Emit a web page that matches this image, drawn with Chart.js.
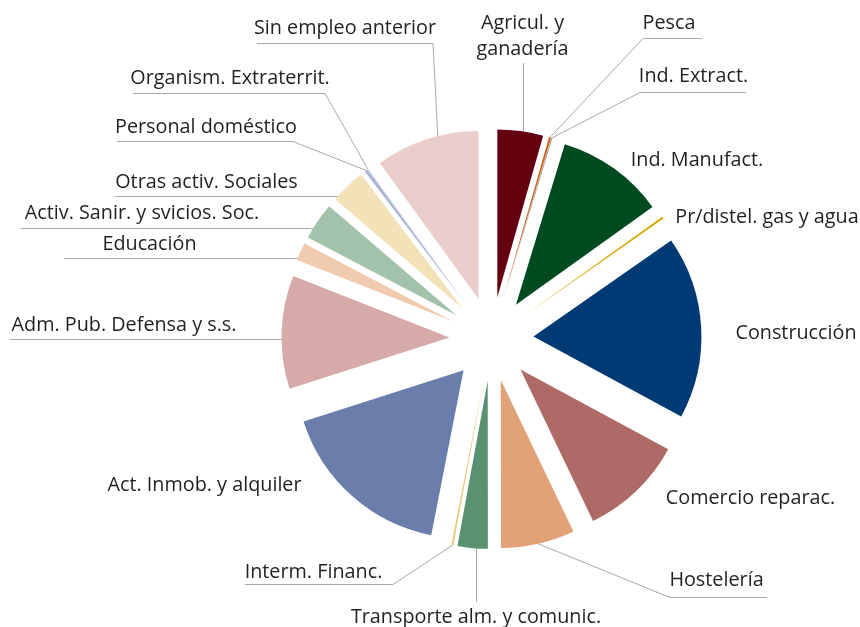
<!DOCTYPE html>
<html><head><meta charset="utf-8">
<script src="https://cdn.jsdelivr.net/npm/chart.js@4.4.0/dist/chart.umd.min.js"></script>
<style>html,body{margin:0;padding:0;background:#fff}#wrap{width:860px;height:627px;position:relative}</style>
</head><body><div id="wrap"><canvas id="c" width="860" height="627"></canvas></div>
<script>
// ---- data ----
const categories = ['Agricul. y ganadería','Pesca','Ind. Extract.','Ind. Manufact.','Pr/distel. gas y agua','Construcción','Comercio reparac.','Hostelería','Transporte alm. y comunic.','Interm. Financ.','Act. Inmob. y alquiler','Adm. Pub. Defensa y s.s.','Educación','Activ. Sanir. y svicios. Soc.','Otras activ. Sociales','Personal doméstico','Organism. Extraterrit.','Sin empleo anterior'];
const shares = [4.4,0.2,0.1,10.4,0.2,17.6,10.0,7.1,2.9,0.2,17.0,10.9,1.7,3.6,3.4,0.3,0.03,10.0];
const colors = ['#650010','#d0601a','#9a9a9a','#004a1f','#d4a800','#003a75','#ad6a66','#e2a278','#5a9271','#e8cc80','#6b7dab','#d5aaa8','#f0cbb0','#a2c2ab','#f3e2b8','#a9b4d6','#8f9bc4','#eacecb'];

// ---- layout / style ----
const EXPLODE = 42;
const RADIUS = 168;
const FONT = '19.8px "Open Sans"';
const TEXT_COLOR = '#231f20';
const LINE_COLOR = '#a8a8a8';
const labelLayout = [
  {i:0, lines:['Agricul. y','ganadería'], cx:522.5, cy:[23,49], leader:{type:'v', y0:63, t:0.55}},
  {i:1, lines:['Pesca'], cx:669, cy:[23], under:[643,702,38], leader:{type:'d', x0:643, y0:38, t:0.5}},
  {i:2, lines:['Ind. Extract.'], cx:693.5, cy:[76], under:[640,746,92], leader:{type:'d', x0:640, y0:92, t:0.5}},
  {i:3, lines:['Ind. Manufact.'], cx:697, cy:[160]},
  {i:4, lines:['Pr/distel. gas y agua'], cx:767, cy:[217]},
  {i:5, lines:['Construcción'], cx:796, cy:[333]},
  {i:6, lines:['Comercio reparac.'], cx:750.5, cy:[498]},
  {i:7, lines:['Hostelería'], cx:716.5, cy:[580], under:[670,767,597], leader:{type:'d', x0:670, y0:597, t:0.5}},
  {i:8, lines:['Transporte alm. y comunic.'], cx:476, cy:[617], leader:{type:'v', y0:602, t:0.4}},
  {i:9, lines:['Interm. Financ.'], cx:313.5, cy:[572], under:[245,393,584], leader:{type:'d', x0:393, y0:584, t:0.5}},
  {i:10, lines:['Act. Inmob. y alquiler'], cx:204.5, cy:[485]},
  {i:11, lines:['Adm. Pub. Defensa y s.s.'], cx:124, cy:[325], leader:{type:'h', x0:10, y0:339}},
  {i:12, lines:['Educación'], cx:149.5, cy:[244], leader:{type:'h', x0:64, y0:258}},
  {i:13, lines:['Activ. Sanir. y svicios. Soc.'], cx:142, cy:[213], leader:{type:'h', x0:21, y0:228}},
  {i:14, lines:['Otras activ. Sociales'], cx:206.5, cy:[182], leader:{type:'h', x0:115, y0:196}},
  {i:15, lines:['Personal doméstico'], cx:206, cy:[127], under:[117,293,141], leader:{type:'d', x0:293, y0:141, t:0.5}},
  {i:16, lines:['Organism. Extraterrit.'], cx:230, cy:[78], under:[133,325,93], leader:{type:'d', x0:325, y0:93, t:0.5}},
  {i:17, lines:['Sin empleo anterior'], cx:345, cy:[28], under:[257,433,43], leader:{type:'d', x0:433, y0:43, t:0.61}}
];

// exploded slices: translate each arc along its bisector
const origDraw = Chart.ArcElement.prototype.draw;
Chart.ArcElement.prototype.draw = function(ctx) {
  const mid = (this.startAngle + this.endAngle) / 2;
  ctx.save();
  ctx.translate(Math.cos(mid) * EXPLODE, Math.sin(mid) * EXPLODE);
  origDraw.call(this, ctx);
  ctx.restore();
};

function sliceCenter(el) {
  const mid = (el.startAngle + el.endAngle) / 2;
  return {x: el.x + Math.cos(mid) * EXPLODE, y: el.y + Math.sin(mid) * EXPLODE};
}
function arcPoint(el, t) {
  const c = sliceCenter(el);
  const a = el.startAngle + (el.endAngle - el.startAngle) * t;
  return {x: c.x + Math.cos(a) * el.outerRadius, y: c.y + Math.sin(a) * el.outerRadius};
}

const leaderPlugin = {
  id: 'leaders',
  beforeDatasetsDraw(chart) {
    const ctx = chart.ctx;
    const arcs = chart.getDatasetMeta(0).data;
    ctx.save();
    ctx.strokeStyle = LINE_COLOR;
    ctx.lineWidth = 1;
    labelLayout.forEach(L => {
      const el = arcs[L.i];
      if (L.under) {
        ctx.beginPath();
        ctx.moveTo(L.under[0], L.under[2] + 0.5);
        ctx.lineTo(L.under[1], L.under[2] + 0.5);
        ctx.stroke();
      }
      if (!L.leader) return;
      const ld = L.leader;
      ctx.beginPath();
      if (ld.type === 'h') {
        const c = sliceCenter(el);
        const dy = ld.y0 - c.y;
        const x = c.x - Math.sqrt(Math.max(el.outerRadius * el.outerRadius - dy * dy, 0));
        ctx.moveTo(ld.x0, ld.y0 + 0.5);
        ctx.lineTo(x + 2, ld.y0 + 0.5);
      } else if (ld.type === 'v') {
        const p = arcPoint(el, ld.t);
        const x = Math.round(p.x) + 0.5;
        ctx.moveTo(x, ld.y0);
        ctx.lineTo(x, p.y);
      } else {
        const p = arcPoint(el, ld.t);
        ctx.moveTo(ld.x0, ld.y0 + 0.5);
        ctx.lineTo(p.x, p.y);
      }
      ctx.stroke();
    });
    ctx.restore();
  },
  afterDatasetsDraw(chart) {
    const ctx = chart.ctx;
    ctx.save();
    ctx.fillStyle = TEXT_COLOR;
    ctx.font = FONT;
    ctx.textAlign = 'center';
    ctx.textBaseline = 'middle';
    labelLayout.forEach(L => {
      L.lines.forEach((s, k) => ctx.fillText(s, L.cx, L.cy[k]));
    });
    ctx.restore();
  }
};

new Chart(document.getElementById('c'), {
  type: 'pie',
  data: {
    labels: categories,
    datasets: [{
      data: shares,
      backgroundColor: colors,
      borderWidth: 0,
      radius: RADIUS
    }]
  },
  options: {
    responsive: false,
    animation: false,
    events: [],
    layout: {padding: {left: 123, right: 0, top: 51, bottom: 0}},
    plugins: {legend: {display: false}, tooltip: {enabled: false}}
  },
  plugins: [leaderPlugin]
});
</script>
</body></html>
